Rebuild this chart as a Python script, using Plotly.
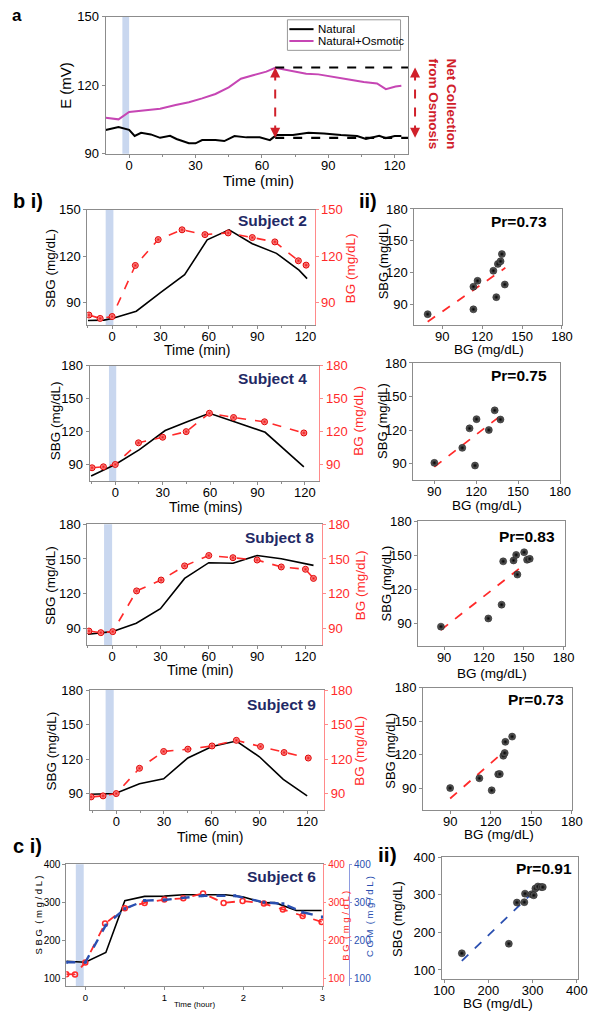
import plotly.graph_objects as go

W, H = 602, 1019
def fx(p): return p / W
def fy(p): return 1 - p / H

# ---------------- data ----------------
# panel a : electrode potential (mV) vs time (min)
a_t_osm = [-10.6, -4.8, 0, 6.8, 14, 21, 27, 33, 39, 45, 50.5, 56, 62, 66, 72, 80, 85.5, 91, 98.6, 106, 112, 116, 120.4, 123]
a_e_osm = [105.8, 105.1, 108.3, 109.1, 109.7, 111.4, 112.6, 114.3, 116.2, 119.1, 122.9, 124.4, 126, 127.7, 126.5, 125.1, 124.8, 123.8, 122.7, 121.5, 120.8, 118.3, 119.5, 119.8]
a_t_nat = [-10.6, -4.8, 0, 2.5, 5.4, 9.8, 14, 18.5, 21.4, 27, 30, 33, 39, 43, 47.6, 53, 59, 63.6, 66.5, 74, 81, 88, 95.7, 103, 107, 113, 116, 120, 123]
a_e_nat = [100.4, 101.7, 100.5, 97.8, 99.2, 98.5, 97, 97.9, 96.5, 94.6, 94.6, 96, 96, 95.6, 97.8, 97.2, 97.2, 96, 98.2, 98.2, 99.2, 98.9, 98.2, 97.8, 96.5, 97.9, 96.8, 97.8, 97.8]
a_series = ["Natural", "Natural+Osmotic"]
a_level_top = 127.8
a_level_bot = 97.0
a_arrow_t = 66

# Subject 2
s2_t_sbg = [-15, -5, 0, 15, 30, 45, 59, 72.6, 87, 102, 116, 121]
s2_sbg = [78.5, 78.7, 79.8, 84.5, 96.5, 108, 130.5, 137, 128, 121.8, 111, 105.5]
s2_t_bg = [-14.4, -7.4, 0, 14.4, 28.6, 43.4, 57.6, 72, 87, 101, 115.6, 120.4]
s2_bg = [82, 79.8, 81, 114, 130.7, 137, 133.9, 135, 132, 129.2, 117, 114.2]
# Subject 4
s4_t_sbg = [-15.3, 0, 15.3, 31.6, 45.5, 59.6, 75, 94.9, 119.4]
s4_sbg = [79.5, 90, 103.5, 121, 129, 136.8, 129.3, 119.4, 87.9]
s4_t_bg = [-14.7, -7.5, 0, 14.7, 30, 44.9, 59.6, 74.9, 94.5, 119.4]
s4_bg = [87, 87.9, 90, 109.8, 114.9, 120, 136.8, 132.9, 129, 118.8]
# Subject 8
s8_t_sbg = [-15, -7.5, 0, 15, 30, 45, 60, 75, 90, 105, 125]
s8_sbg = [84.9, 86, 87.2, 94.5, 107, 133.2, 146.8, 146.3, 153, 150.2, 144.5]
s8_t_bg = [-14.4, -7, 0.4, 15.2, 30.4, 45, 60, 75, 90, 105, 120, 125]
s8_bg = [87.7, 86.3, 87.2, 122.4, 131.8, 144, 153, 151.1, 149.1, 143.1, 141.1, 133.2]
# Subject 9
s9_t_sbg = [-15.8, -0.6, 14.6, 29.8, 45, 60.2, 75.5, 90, 105, 120]
s9_sbg = [89.4, 90, 98.6, 102.9, 121, 130.9, 135.7, 122, 102.3, 88]
s9_t_bg = [-15.8, -8.3, 0, 14.6, 29.8, 45, 60.2, 75.5, 90.7, 105.5, 120.7]
s9_bg = [87.1, 88, 90, 112, 126.6, 128.6, 131.4, 136.3, 130.9, 125.7, 120.9]
# Subject 6 (hours)
s6_t_sbg = [-0.24, 0, 0.26, 0.5, 0.75, 1, 1.24, 1.48, 1.77, 1.99, 2.26, 2.4, 2.67, 2.99]
s6_sbg = [144.8, 142.2, 168, 304.3, 315.5, 316, 319.8, 319.8, 319.8, 314.7, 298.3, 299, 278.4, 278.4]
s6_t_bg = [-0.24, -0.13, 0, 0.25, 0.5, 0.75, 1, 1.24, 1.49, 1.75, 1.99, 2.26, 2.5, 2.75, 2.99]
s6_bg = [111, 110.3, 142, 244, 284.5, 298.3, 307, 310.3, 323.3, 298.3, 303.4, 296.6, 281, 263.8, 248.3]
s6_t_cgm = [-0.24, 0, 0.26, 0.5, 0.75, 1, 1.48, 1.89, 2.26, 2.5, 2.75, 3.0]
s6_cgm = [142.2, 142.2, 239.7, 282.8, 304.3, 306, 317, 317, 300, 296, 274, 261]

# scatter correlations (BG, SBG) and fitted lines
sc2_bg = [79, 113.4, 116.5, 113.4, 128.4, 131.8, 133.8, 134.8, 130.6, 137]
sc2_sbg = [80.4, 106.4, 112, 85, 121.5, 128, 130.5, 137.3, 96.5, 108.5]
sc2_fit_x = [79, 137.4]
sc2_fit_y = [73.3, 124.3]
sc4_bg = [90, 110, 115.2, 120.2, 119.1, 129, 133.2, 137.3]
sc4_sbg = [90.6, 104, 121.5, 129.7, 88.2, 120, 137.6, 129.4]
sc4_fit_x = [90, 137.3]
sc4_fit_y = [87, 132.6]
sc8_bg = [87.6, 123.3, 133.3, 134.5, 142.3, 144.3, 145.2, 150.3, 152.5, 154.5]
sc8_sbg = [87.4, 94.6, 106.7, 144.8, 145.6, 150.5, 133.2, 152.8, 146.2, 147]
sc8_fit_x = [87.6, 147.2]
sc8_fit_y = [84.5, 139]
sc9_bg = [90, 111.6, 120.7, 125.5, 126.7, 129.3, 130.3, 130.8, 135.8]
sc9_sbg = [90, 98.8, 88, 102.4, 102.6, 119, 121.5, 131.5, 136.2]
sc9_fit_x = [90, 131]
sc9_fit_y = [80.6, 124]
sc6_bg = [140.2, 246.3, 264.6, 281.4, 282.9, 297.5, 302.6, 306.3, 312.1, 319.5, 323]
sc6_sbg = [144.3, 169.6, 279, 280, 302.6, 301, 298.3, 316.5, 321.7, 320, 320]
sc6_fit_x = [140.2, 319.5]
sc6_fit_y = [124.3, 327]

pr_values = ["Pr=0.73", "Pr=0.75", "Pr=0.83", "Pr=0.73", "Pr=0.91"]
subjects = ["Subject 2", "Subject 4", "Subject 8", "Subject 9", "Subject 6"]
time_ticks = [0, 30, 60, 90, 120]
time_minor = [-15, 15, 45, 75, 105]

# ---------------- style ----------------
FONT = "Liberation Sans, Arial, sans-serif"
NARROW = "Liberation Sans Narrow, Arial Narrow, Liberation Sans, sans-serif"
RED = '#ff2a2a'
RED_AX = '#ff8a8a'
DARKRED = '#d0202a'
NAVY = '#1f2a66'
BAND = '#c9d7ef'
GRAY = '#8c8c8c'
PINK = '#c646b4'
BLUE = '#2a4fb0'

fig = go.Figure()
layout = {}
ann = []
shapes = []

def xax(dom, rng, tickvals, anchor, size=13, font=FONT, standoff=-4, minor=None):
    d = dict(domain=[fx(dom[0]), fx(dom[1])], range=rng, tickvals=tickvals, anchor=anchor,
             showline=True, linecolor=GRAY, linewidth=1, mirror=True, ticks='outside',
             ticklen=3, tickcolor=GRAY, showgrid=False, zeroline=False,
             ticklabelstandoff=standoff,
             tickfont=dict(size=size, family=font, color='black'))
    if minor is not None:
        d['minor'] = dict(tickmode='array', tickvals=minor, ticks='outside', ticklen=2,
                          tickcolor=GRAY, showgrid=False)
    return d

def yax(dom, rng, tickvals, anchor, size=13, font=FONT, mirror=True):
    return dict(domain=[fy(dom[1]), fy(dom[0])], range=rng, tickvals=tickvals, anchor=anchor,
                showline=True, linecolor=GRAY, linewidth=1, mirror=mirror, ticks='outside',
                ticklen=3, tickcolor=GRAY, showgrid=False, zeroline=False,
                tickfont=dict(size=size, family=font, color='black'))

def text(x, y, s, size=13, color='black', bold=False, angle=0, xanchor='center', family=FONT):
    if bold:
        s = '<b>' + s + '</b>'
    ann.append(dict(x=fx(x), y=fy(y), xref='paper', yref='paper', text=s, showarrow=False,
                    textangle=angle, xanchor=xanchor, yanchor='middle',
                    font=dict(size=size, color=color, family=family)))

def band(xref, yref, x0, x1):
    shapes.append(dict(type='rect', xref=xref, yref=yref + ' domain', x0=x0, x1=x1, y0=0, y1=1,
                       fillcolor=BAND, line=dict(width=0), layer='below'))

red_marker = dict(symbol='circle', size=6, color='#ffb0b0', line=dict(color='#e00000', width=1),
                  gradient=dict(type='radial', color='#f01010'))
ball = dict(symbol='circle', size=7, color='#707070', line=dict(color='#000', width=0.5),
            gradient=dict(type='radial', color='#000000'))

# ---------------- panel a ----------------
layout['xaxis'] = xax([100, 412.7], [-10.6, 126], time_ticks, 'y', standoff=-3, minor=[15, 45, 75, 105])
layout['yaxis'] = yax([10, 149], [90, 150], [90, 120, 150], 'x')
band('x', 'y', -3.06, 0)
fig.add_trace(go.Scatter(x=a_t_nat, y=a_e_nat, mode='lines', name=a_series[0], showlegend=False,
                         line=dict(color='black', width=2), xaxis='x', yaxis='y'))
fig.add_trace(go.Scatter(x=a_t_osm, y=a_e_osm, mode='lines', name=a_series[1], showlegend=False,
                         line=dict(color=PINK, width=2), xaxis='x', yaxis='y'))
for lev in (a_level_top, a_level_bot):
    shapes.append(dict(type='line', xref='x', yref='y', x0=a_arrow_t, x1=126, y0=lev, y1=lev,
                       line=dict(color='black', width=2.2, dash='dash')))
shapes.append(dict(type='line', xref='x', yref='y', x0=a_arrow_t, x1=a_arrow_t,
                   y0=a_level_bot + 1.5, y1=a_level_top - 1.5,
                   line=dict(color=DARKRED, width=2, dash='dash')))
for yv, ay in ((a_level_top, 10), (a_level_bot, -10)):
    ann.append(dict(x=a_arrow_t, y=yv, xref='x', yref='y', text='', showarrow=True, ax=0, ay=ay,
                    arrowhead=2, arrowsize=1, arrowwidth=2, arrowcolor=DARKRED, standoff=0))
shapes.append(dict(type='line', xref='paper', yref='y', x0=fx(420), x1=fx(420),
                   y0=a_level_bot + 1.5, y1=a_level_top - 1.5,
                   line=dict(color=DARKRED, width=2, dash='dash')))
for yv, ay in ((a_level_top, 10), (a_level_bot, -10)):
    ann.append(dict(x=fx(420), y=yv, xref='paper', yref='y', text='', showarrow=True, ax=0, ay=ay,
                    arrowhead=2, arrowsize=1, arrowwidth=2, arrowcolor=DARKRED, standoff=0))
text(448, 98, 'Net Collection<br>from Osmosis', size=13.5, color=DARKRED, bold=True, angle=90)
text(1, 9, 'a', size=17, bold=True, xanchor='left')
text(59, 80, 'E (mV)', size=15, angle=-90)
text(258, 176, 'Time (min)', size=15)
# legend box (drawn)
shapes.append(dict(type='rect', xref='paper', yref='paper', x0=fx(288), x1=fx(405), y0=fy(44), y1=fy(13),
                   line=dict(color='#999', width=1), fillcolor='white'))
shapes.append(dict(type='line', xref='paper', yref='paper', x0=fx(290), x1=fx(315), y0=fy(22.5), y1=fy(22.5),
                   line=dict(color='black', width=2)))
shapes.append(dict(type='line', xref='paper', yref='paper', x0=fx(290), x1=fx(315), y0=fy(34.5), y1=fy(34.5),
                   line=dict(color=PINK, width=2)))
text(318, 22.5, a_series[0], size=11.5, xanchor='left')
text(318, 34.5, a_series[1], size=11.5, xanchor='left')

# ---------------- time-series subjects ----------------
def subject(n, xi, yl, yr, xdom, ydom, xrng, yrng, yticks, t_sbg, sbg, t_bg, bg, bnd,
            lab_xy, ytitle_y, xtitle, xtitle_xy, ltitle_x, rtitle_x):
    xs = 'x%d' % xi
    layout['xaxis%d' % xi] = xax(xdom, xrng, time_ticks, 'y%d' % yl, minor=time_minor)
    layout['yaxis%d' % yl] = yax(ydom, yrng, yticks, xs, mirror=False)
    layout['yaxis%d' % yr] = dict(overlaying='y%d' % yl, side='right', anchor=xs, range=yrng,
                                  tickvals=yticks, showline=True, linecolor=RED_AX, linewidth=1,
                                  ticks='outside', ticklen=3, tickcolor=RED_AX, showgrid=False,
                                  zeroline=False, tickfont=dict(size=13, family=FONT, color=RED))
    band(xs, 'y%d' % yl, bnd[0], bnd[1])
    fig.add_trace(go.Scatter(x=t_sbg, y=sbg, mode='lines', line=dict(color='black', width=1.6),
                             xaxis=xs, yaxis='y%d' % yl, showlegend=False))
    fig.add_trace(go.Scatter(x=t_bg, y=bg, mode='lines+markers',
                             line=dict(color=RED, width=1.6, dash='dash'), marker=red_marker,
                             xaxis=xs, yaxis='y%d' % yr, showlegend=False))
    text(lab_xy[0], lab_xy[1], subjects[n], size=15.5, color=NAVY, bold=True, xanchor='right')
    text(ltitle_x, ytitle_y, 'SBG (mg/dL)', size=13.5, angle=-90)
    text(rtitle_x, ytitle_y, 'BG (mg/dL)', size=13.5, angle=-90, color=RED)
    text(xtitle_xy[0], xtitle_xy[1], xtitle, size=14)

subject(0, 2, 2, 3, [81, 316], [205.7, 323], [-15.4, 125.6], [75.4, 150], [90, 120, 150],
        s2_t_sbg, s2_sbg, s2_t_bg, s2_bg, [-4, 0.8], (310, 217), 265, 'Time (min)', (194, 348), 42, 353)
subject(1, 4, 5, 6, [83.3, 321], [364.3, 481], [-16.3, 129.2], [75, 180], [90, 120, 150, 180],
        s4_t_sbg, s4_sbg, s4_t_bg, s4_bg, [-4, 0.6], (310, 377), 420, 'Time (mins)', (203, 507), 48, 362)
subject(2, 6, 8, 9, [81, 323.3], [525, 647.7], [-15.4, 130], [75.5, 180], [90, 120, 150, 180],
        s8_t_sbg, s8_sbg, s8_t_bg, s8_bg, [-5, 0], (318, 538), 587, 'Time (min)', (198, 673), 43, 363)
subject(3, 8, 11, 12, [83.3, 326], [693.3, 815], [-16.8, 130.7], [75.7, 180], [90, 120, 150, 180],
        s9_t_sbg, s9_sbg, s9_t_bg, s9_bg, [-6.7, -1.6], (320, 708), 755, 'Time (min)', (208, 842), 44, 363)

text(2, 197, 'b i)', size=20, bold=True, xanchor='left')
text(371, 197, 'ii)', size=20, bold=True)

# ---------------- scatter panels ----------------
def scatter(n, xi, yi, xdom, ydom, xrng, yrng, ticks, bgv, sbgv, fx_, fy_, pr_xy, ytitle_xy, xtitle_xy,
            fitcolor=RED, size=13):
    xs, ys = 'x%d' % xi, 'y%d' % yi
    layout['xaxis%d' % xi] = xax(xdom, xrng, ticks, ys, size=size)
    layout['yaxis%d' % yi] = yax(ydom, yrng, ticks, xs, size=size)
    fig.add_trace(go.Scatter(x=fx_, y=fy_, mode='lines', line=dict(color=fitcolor, width=1.8, dash='dash'),
                             xaxis=xs, yaxis=ys, showlegend=False))
    fig.add_trace(go.Scatter(x=bgv, y=sbgv, mode='markers', marker=ball,
                             xaxis=xs, yaxis=ys, showlegend=False))
    text(pr_xy[0], pr_xy[1], pr_values[n], size=15.5, bold=True)
    text(ytitle_xy[0], ytitle_xy[1], 'SBG (mg/dL)', size=13, angle=-90)
    text(xtitle_xy[0], xtitle_xy[1], 'BG (mg/dL)', size=13.5)

t4 = [90, 120, 150, 180]
scatter(0, 3, 4, [419.3, 572], [205, 322.7], [69, 180], [70.2, 180], t4, sc2_bg, sc2_sbg,
        sc2_fit_x, sc2_fit_y, (528, 218), (387, 258), (496, 348))
scatter(1, 5, 7, [418.3, 570], [361.3, 480], [75, 180], [75.3, 180], t4, sc4_bg, sc4_sbg,
        sc4_fit_x, sc4_fit_y, (528, 374), (387, 420), (494, 506))
scatter(2, 7, 10, [423.3, 575], [522, 649], [70.5, 181], [70, 180], t4, sc8_bg, sc8_sbg,
        sc8_fit_x, sc8_fit_y, (536, 537), (390, 585), (500, 676))
scatter(3, 9, 13, [428.3, 582.3], [691, 815], [70, 180], [70.3, 180], t4, sc9_bg, sc9_sbg,
        sc9_fit_x, sc9_fit_y, (545, 703), (395, 755), (507, 840))
scatter(4, 11, 17, [447.7, 588.3], [862.7, 986.7], [95, 402], [75.5, 400], [100, 200, 300, 400],
        sc6_bg, sc6_sbg, sc6_fit_x, sc6_fit_y, (553, 874), (402, 926), (506, 1011), fitcolor=BLUE)
text(391, 860, 'ii)', size=21, bold=True)

# ---------------- panel c i ----------------
c_ticks = [100, 200, 300, 400]
c_rng = [79, 400]
layout['xaxis10'] = xax([59.3, 325], [-0.24, 3.01], [0, 1, 2, 3], 'y14', size=9.5, font=NARROW, standoff=-1,
                        minor=[0.5, 1.5, 2.5])
layout['yaxis14'] = yax([870, 994], c_rng, c_ticks, 'x10', size=10, font=NARROW, mirror=False)
layout['yaxis15'] = dict(overlaying='y14', side='right', anchor='x10', range=c_rng, tickvals=c_ticks,
                         showline=True, linecolor=RED_AX, linewidth=1, ticks='outside', ticklen=2,
                         tickcolor=RED_AX, showgrid=False, zeroline=False,
                         tickfont=dict(size=10, family=NARROW, color=RED))
layout['yaxis16'] = dict(overlaying='y14', side='right', anchor='free', position=fx(351.7), range=c_rng,
                         tickvals=c_ticks, showline=True, linecolor='#8e9be0', linewidth=1,
                         ticks='outside', ticklen=2, tickcolor='#8e9be0', showgrid=False,
                         zeroline=False, tickfont=dict(size=10, family=NARROW, color=BLUE))
band('x10', 'y14', -0.12, -0.02)
fig.add_trace(go.Scatter(x=s6_t_sbg, y=s6_sbg, mode='lines', line=dict(color='black', width=1.6),
                         xaxis='x10', yaxis='y14', showlegend=False))
fig.add_trace(go.Scatter(x=s6_t_cgm, y=s6_cgm, mode='lines+markers',
                         line=dict(color=BLUE, width=2.4, dash='dash'),
                         marker=dict(symbol='square', size=3, color=BLUE),
                         xaxis='x10', yaxis='y16', showlegend=False))
fig.add_trace(go.Scatter(x=s6_t_bg, y=s6_bg, mode='lines+markers',
                         line=dict(color=RED, width=1.8, dash='dash'),
                         marker=dict(symbol='circle-open', size=5, color=RED, line=dict(width=1.5)),
                         xaxis='x10', yaxis='y15', showlegend=False))
text(2, 852, 'c i)', size=20, bold=True, xanchor='left')
text(320, 882, subjects[4], size=15.5, color=NAVY, bold=True, xanchor='right')
text(30, 922, 'S B G  ( m g / d L )', size=9.5, angle=-90)
text(348, 932, 'B G  ( m g / d L )', size=9.5, angle=-90, color=RED)
text(373, 923, 'C G M  ( m g / d L )', size=9.5, angle=-90, color=BLUE)
text(192, 1012, 'Time (hour)', size=8, family=NARROW)

layout.update(dict(
    width=W, height=H, margin=dict(l=0, r=0, t=0, b=0),
    paper_bgcolor='white', plot_bgcolor='white',
    font=dict(family=FONT, color='black'),
    showlegend=False,
    annotations=ann, shapes=shapes,
))
fig.update_layout(**layout)
fig.write_html("out.html", config={'displayModeBar': False},
               post_script="document.body.style.margin='0px';document.body.style.overflow='hidden';")
